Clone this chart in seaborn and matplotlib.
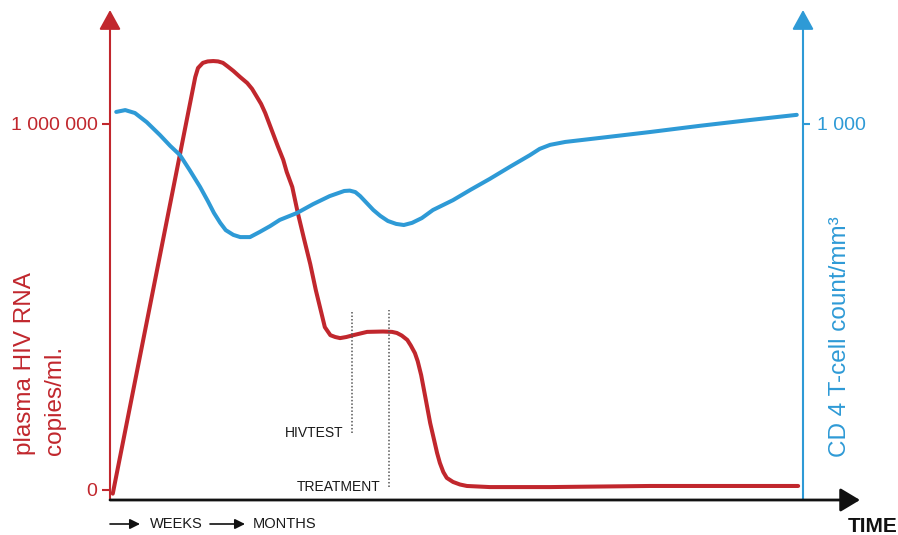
import matplotlib
matplotlib.use("Agg")
import matplotlib.pyplot as plt
import seaborn as sns
import pandas as pd

# ---- data (time in arbitrary units 0..100) ----
rna_time = [0.4, 12.3, 12.7, 13.4, 14.1, 14.9, 15.6, 16.3, 17.0, 17.8, 18.8, 19.8, 20.5,
            21.2, 21.8, 22.4, 22.9, 23.5, 24.2, 25.0, 25.5, 26.3, 27.1, 28.0, 28.9, 29.7,
            30.5, 31.0, 31.8, 32.5, 33.2, 34.1, 35.1, 37.1, 39.4, 40.7, 41.4, 42.1, 42.9,
            43.4, 44.0, 44.4, 44.9, 45.5, 46.2, 46.8, 47.2, 47.6, 48.1, 48.6, 49.5, 50.5,
            51.5, 54.8, 63.5, 77.9, 92.4, 99.3]
rna_copies = [-10000, 1128000, 1153000, 1167000, 1171000, 1172000, 1171000, 1167000, 1157000,
              1145000, 1128000, 1112000, 1096000, 1074000, 1055000, 1030000, 1005000, 975000,
              940000, 902000, 869000, 828000, 757000, 686000, 617000, 546000, 484000, 445000,
              423000, 418000, 415000, 418000, 423000, 432000, 433000, 432000, 429000, 422000,
              410000, 395000, 374000, 352000, 314000, 254000, 183000, 134000, 101000, 74000,
              49000, 33000, 22000, 15000, 11000, 8000, 8000, 11000, 11000, 11000]

cd4_time = [0.9, 2.2, 3.6, 5.3, 7.2, 8.7, 10.1, 11.5, 13.0, 14.1, 15.0, 15.9, 16.7, 17.8,
            18.8, 20.2, 21.6, 23.1, 24.5, 27.0, 29.3, 31.7, 32.9, 33.8, 34.6, 35.4, 36.1,
            36.9, 38.0, 39.0, 40.1, 41.3, 42.4, 43.6, 45.0, 46.6, 49.5, 52.0, 54.8, 57.7,
            60.6, 62.0, 63.5, 65.7, 70.7, 77.9, 85.1, 92.4, 99.1]
cd4_count = [1033, 1038, 1030, 1005, 970, 940, 915, 874, 828, 790, 757, 730, 710, 697, 691,
             691, 705, 721, 738, 757, 781, 803, 811, 817, 818, 814, 803, 787, 765, 749, 735,
             727, 724, 730, 743, 765, 792, 820, 850, 883, 915, 932, 943, 951, 962, 978, 995,
             1011, 1025]

event_labels = ["HIVTEST", "TREATMENT"]
event_time = [34.9, 40.3]
event_top = [492000, 492000]
event_bottom = [156000, 8000]

left_ticks = [0, 1000000]
left_ticklabels = ["0", "1 000 000"]
right_ticks = [1000]
right_ticklabels = ["1 000"]

RED = "#C1272D"
BLUE = "#2E9AD6"

sns.set_theme(style="white")
plt.rcParams["font.family"] = ["Liberation Sans", "DejaVu Sans"]

W, H = 898, 535
fig = plt.figure(figsize=(W / 100, H / 100), dpi=100)
ax = fig.add_axes([110 / W, 35 / H, 693 / W, 490 / H])
ax2 = ax.twinx()

rna = pd.DataFrame({"time": rna_time, "copies": rna_copies})
cd4 = pd.DataFrame({"time": cd4_time, "count": cd4_count})

sns.lineplot(data=rna, x="time", y="copies", ax=ax, color=RED, lw=2.9,
             sort=False, estimator=None, solid_capstyle="round", solid_joinstyle="round")
sns.lineplot(data=cd4, x="time", y="count", ax=ax2, color=BLUE, lw=2.9,
             sort=False, estimator=None, solid_capstyle="round", solid_joinstyle="round")

ax.set_xlim(0, 100)
ax.set_ylim(-1000000 * 10 / 366, 1000000 * 480 / 366)
ax2.set_ylim(-1000 * 10 / 366, 1000 * 480 / 366)

for a in (ax, ax2):
    for s in a.spines.values():
        s.set_visible(False)
    a.set_xlabel("")
    a.set_ylabel("")
    a.set_xticks([])
    a.grid(False)

ax.set_yticks(left_ticks)
ax.set_yticklabels(left_ticklabels)
ax.tick_params(axis="y", left=True, length=5.5, width=1.5, color=RED, labelcolor=RED,
               labelsize=14, pad=3.5, direction="out")
ax2.set_yticks(right_ticks)
ax2.set_yticklabels(right_ticklabels)
ax2.tick_params(axis="y", right=True, left=False, length=5, width=1.5, color=BLUE,
                labelcolor=BLUE, labelsize=14, pad=5, direction="out")

# event markers
for lab, t, top, bot in zip(event_labels, event_time, event_top, event_bottom):
    ax.plot([t, t], [bot, top], color="#555555", lw=1.1, ls=(0, (1, 1.3)))
    ax.annotate(lab, xy=(t, bot), xytext=(-6, 0), textcoords="offset points",
                ha="right", va="center", fontsize=10, color="#1a1a1a")

# axis arrows
def arrow(a, start, end, color, lw=1.5, hl=1.0, hw=0.55):
    a.annotate("", xy=end, xytext=start, xycoords="axes fraction",
               textcoords="axes fraction",
               arrowprops=dict(arrowstyle=f"-|>,head_length={hl},head_width={hw}",
                               color=color, lw=lw, shrinkA=0, shrinkB=0))

arrow(ax, (0, 0), (0, 1), RED)
arrow(ax, (1, 0), (1, 1), BLUE)
arrow(ax, (0, 0), ((860 - 110) / 693, 0), "#111111", lw=2, hl=1.0, hw=0.6)

def fx(px):
    return px / W

def fy(py):
    return 1 - py / H

# bottom legend of time scale
for x0, x1 in [(110, 140), (210, 245)]:
    fig.add_artist(matplotlib.patches.FancyArrowPatch(
        (fx(x0), fy(524)), (fx(x1), fy(524)), transform=fig.transFigure,
        arrowstyle="-|>,head_length=6,head_width=3", color="#111111", lw=1.2,
        shrinkA=0, shrinkB=0))
fig.text(fx(150), fy(524), "WEEKS", ha="left", va="center", fontsize=10.5,
         color="#1a1a1a")
fig.text(fx(253), fy(524), "MONTHS", ha="left", va="center", fontsize=10.5,
         color="#1a1a1a")
fig.text(fx(897), fy(527), "TIME", ha="right", va="center", fontsize=15,
         fontweight="bold", color="#111111")

# axis titles
fig.text(fx(25), fy(455), "plasma HIV RNA", rotation=90, ha="center", va="bottom",
         fontsize=17.5, color=RED)
fig.text(fx(55), fy(455), "copies/ml.", rotation=90, ha="center", va="bottom",
         fontsize=17.5, color=RED)
fig.text(fx(840), fy(457), "CD 4 T-cell count/mm\u00b3", rotation=90, ha="center",
         va="bottom", fontsize=17.5, color=BLUE)

fig.savefig("out.png", dpi=100)
